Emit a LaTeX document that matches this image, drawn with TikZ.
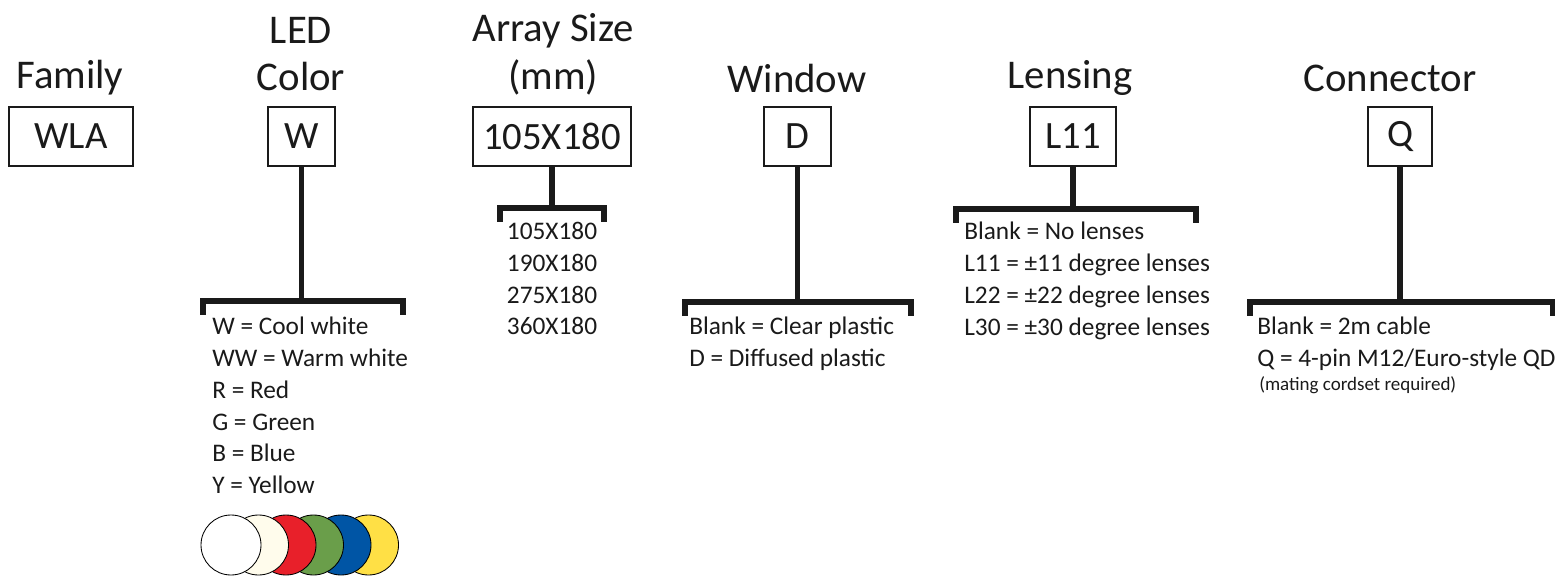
\documentclass[tikz,border=0pt]{standalone}
\usepackage{fontspec}
\setmainfont{Carlito}
\usepackage{tikz}
\usetikzlibrary{positioning, calc}
\definecolor{ink}{HTML}{1A1A1A}
\definecolor{ledwhite}{HTML}{FFFFFF}
\definecolor{ledwarm}{HTML}{FFFCEC}
\definecolor{ledred}{HTML}{E8202A}
\definecolor{ledgreen}{HTML}{6A9E4A}
\definecolor{ledblue}{HTML}{0055A5}
\definecolor{ledyellow}{HTML}{FFE045}
\tikzset{
  title/.style  ={font=\fontsize{29}{34}\selectfont, align=center, inner sep=0pt, text=ink},
  codebox/.style={draw=ink, line width=1pt, minimum height=59*0.025cm,
                  font=\fontsize{27.5}{32}\selectfont, inner sep=0pt, text=ink},
  bar/.style    ={draw=ink, line width=3.6pt, line cap=butt, line join=miter},
  opts/.style   ={font=\fontsize{18}{22.6}\selectfont, align=left, inner sep=0pt, text=ink},
  note/.style   ={font=\fontsize{13.5}{16}\selectfont, inner sep=0pt, text=ink},
  dot/.style    ={draw=black, line width=0.6pt}
}

\begin{document}
\begin{tikzpicture}[x=0.025cm, y=-0.025cm]
  \useasboundingbox (0,0) rectangle (1555,576);

  % code boxes
  \node[codebox, minimum width=124*0.025cm] (fam)  at (71,136.5)   {WLA};
  \node[codebox, minimum width=67*0.025cm]  (led)  at (301.5,136.5) {W};
  \node[codebox, minimum width=158*0.025cm] (size) at (552,136.5)   {105X180};
  \node[codebox, minimum width=67*0.025cm]  (win)  at (797.5,136.5) {D};
  \node[codebox, minimum width=86*0.025cm]  (lens) at (1073,136.5)  {L11};
  \node[codebox, minimum width=64*0.025cm]  (conn) at (1400,136.5)  {Q};

  % titles
  \node[title] (famt)  at (70,78)    {Family};
  \node[title] (ledt)  at (301,54)   {LED\\Color};
  \node[title] (sizet) at (553,54)   {Array Size\\(mm)};
  \node[title] (wint)  at (797,78)   {Window};
  \node[title] (lenst) at (1070,78)  {Lensing};
  \node[title] (connt) at (1390,78)  {Connector};

  % bracket ends
  \coordinate (ledA)  at (203,301);  \coordinate (ledB)  at (403,301);
  \coordinate (sizeA) at (500,208);  \coordinate (sizeB) at (604,208);
  \coordinate (winA)  at (685,302);  \coordinate (winB)  at (911,302);
  \coordinate (lensA) at (956,209);  \coordinate (lensB) at (1196,209);
  \coordinate (connA) at (1250,302); \coordinate (connB) at (1553,302);

  \foreach \b in {led, size, win, lens, conn} {
    \draw[bar] (\b.south) -- (\b.south |- \b A);
    \draw[bar] ($(\b A)+(0,14)$) -- (\b A) -- (\b B) -- ++(0,14);
  }

  % option lists
  \node[opts, anchor=north west] (ledo) at (212,317)
    {W = Cool white\\WW = Warm white\\R = Red\\G = Green\\B = Blue\\Y = Yellow};
  \node[opts, anchor=north, align=center] (sizeo) at (552,222)
    {105X180\\190X180\\275X180\\360X180};
  \node[opts, anchor=north west] (wino) at (689,317)
    {Blank = Clear plastic\\D = Diffused plastic};
  \node[opts, anchor=north west] (lenso) at (964,222)
    {Blank = No lenses\\L11 = ±11 degree lenses\\L22 = ±22 degree lenses\\L30 = ±30 degree lenses};
  \node[opts, anchor=north west] (conno) at (1257,317)
    {Blank = 2m cable\\Q = 4-pin M12/Euro-style QD};
  \node[note, anchor=north west] (connn) at (1259,376) {(mating cordset required)};

  % colour swatches
  \foreach \c [count=\i from 0] in {ledyellow, ledblue, ledgreen, ledred, ledwarm, ledwhite}
    \filldraw[dot, fill=\c] (368.5-27.5*\i,545) circle (30);
\end{tikzpicture}
\end{document}
